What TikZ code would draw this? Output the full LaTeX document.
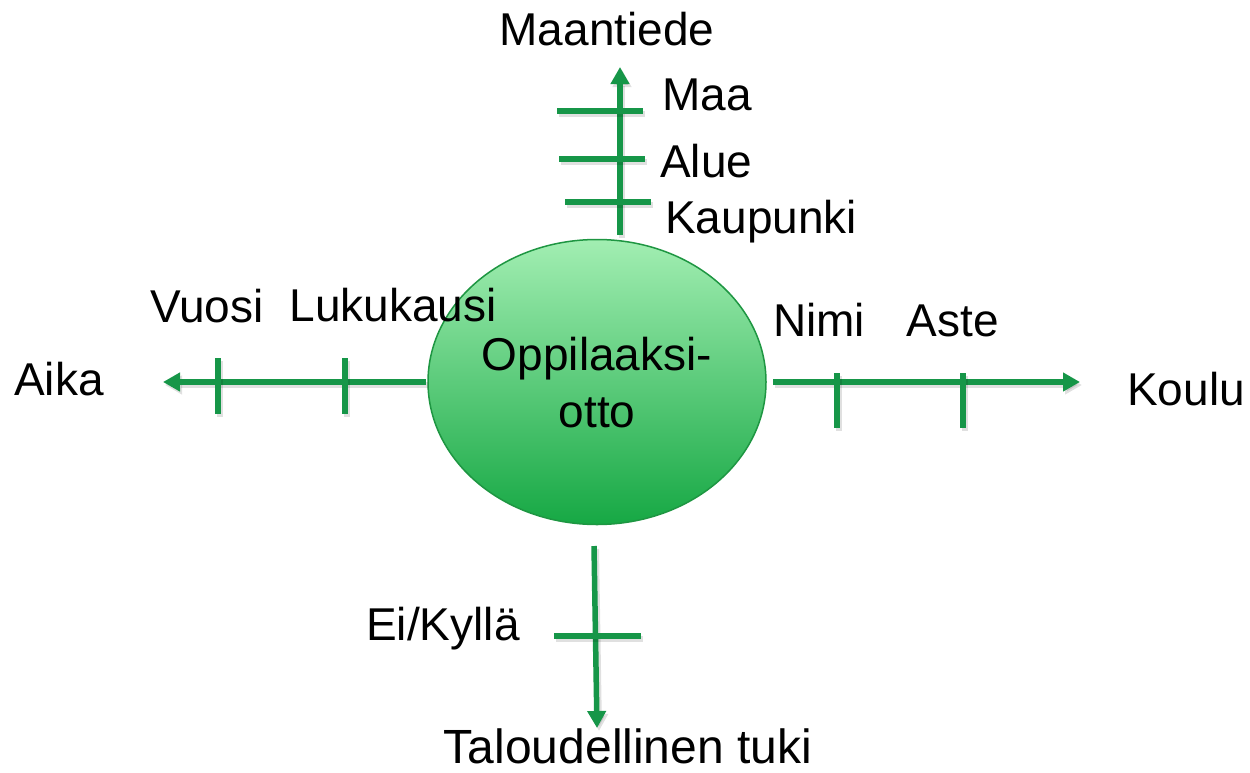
\documentclass[tikz,border=0pt]{standalone}
\usepackage{fontspec}
\setmainfont{Liberation Sans}
\usetikzlibrary{arrows.meta,shapes.geometric}
\definecolor{axisgreen}{RGB}{22,150,72}
\definecolor{bubbletop}{RGB}{162,238,178}
\definecolor{bubblebottom}{RGB}{22,168,68}
\definecolor{bubbleedge}{RGB}{30,150,66}
\begin{document}
\begin{tikzpicture}[x=1pt,y=-1pt,
  axisline/.style={draw=axisgreen,line width=5.5pt,
    preaction={draw=black,opacity=0.12,line width=6pt,transform canvas={shift={(2,3)}}}},
  arrowaxis/.style={axisline,-{Triangle[length=17pt,width=18pt]}},
  lbl/.style={inner sep=0pt,font=\fontsize{46}{52}\selectfont},
]
\useasboundingbox (0,0) rectangle (1250,772);

% central bubble
\node[ellipse,minimum width=338pt,minimum height=285pt,inner sep=0pt,
      top color=bubbletop,bottom color=bubblebottom,draw=bubbleedge,line width=1.5pt]
      (c) at (597,382) {};
\node[lbl,anchor=base] (c1) at (597,370) {Oppilaaksi-};
\node[lbl,anchor=base] (c2) at (597,427) {otto};

% axis end points
\coordinate (topS) at (620,235);
\coordinate (topE) at (620,67);
\coordinate (leftS) at (426,382);
\coordinate (leftE) at (163,382);
\coordinate (rightS) at (773,382);
\coordinate (rightE) at (1080,382);
\coordinate (botS) at (594,546);
\coordinate (botE) at (597,728);

% tick end points
\coordinate (t1a) at (557,111); \coordinate (t1b) at (643,111);
\coordinate (t2a) at (559,159); \coordinate (t2b) at (645,159);
\coordinate (t3a) at (565,202); \coordinate (t3b) at (651,202);
\coordinate (l1a) at (218,358); \coordinate (l1b) at (218,414);
\coordinate (l2a) at (345,358); \coordinate (l2b) at (345,414);
\coordinate (r1a) at (837,373); \coordinate (r1b) at (837,428);
\coordinate (r2a) at (963,373); \coordinate (r2b) at (963,428);
\coordinate (b1a) at (554,636); \coordinate (b1b) at (641,636);

% axes
\draw[arrowaxis] (topS) -- (topE);
\draw[arrowaxis] (leftS) -- (leftE);
\draw[arrowaxis] (rightS) -- (rightE);
\draw[arrowaxis] (botS) -- (botE);

% ticks
\draw[axisline] (t1a) -- (t1b);
\draw[axisline] (t2a) -- (t2b);
\draw[axisline] (t3a) -- (t3b);
\draw[axisline] (l1a) -- (l1b);
\draw[axisline] (l2a) -- (l2b);
\draw[axisline] (r1a) -- (r1b);
\draw[axisline] (r2a) -- (r2b);
\draw[axisline] (b1a) -- (b1b);

% labels
\node[lbl,anchor=base] (maantiede) at (607,45) {Maantiede};
\node[lbl,anchor=base west] (maa) at (662,110) {Maa};
\node[lbl,anchor=base west] (alue) at (660,177) {Alue};
\node[lbl,anchor=base west] (kaupunki) at (665,233) {Kaupunki};
\node[lbl,anchor=base] (vuosi) at (207,322) {Vuosi};
\node[lbl,anchor=base] (lukukausi) at (393,321) {Lukukausi};
\node[lbl,anchor=base] (aika) at (59,395) {Aika};
\node[lbl,anchor=base] (nimi) at (819,336) {Nimi};
\node[lbl,anchor=base] (aste) at (953,336) {Aste};
\node[lbl,anchor=base] (koulu) at (1186,405) {Koulu};
\node[lbl,anchor=base] (eikylla) at (443,640) {Ei/Kyllä};
\node[lbl,anchor=base,font=\fontsize{48}{52}\selectfont] (tuki) at (628,763) {Taloudellinen tuki};
\end{tikzpicture}
\end{document}
